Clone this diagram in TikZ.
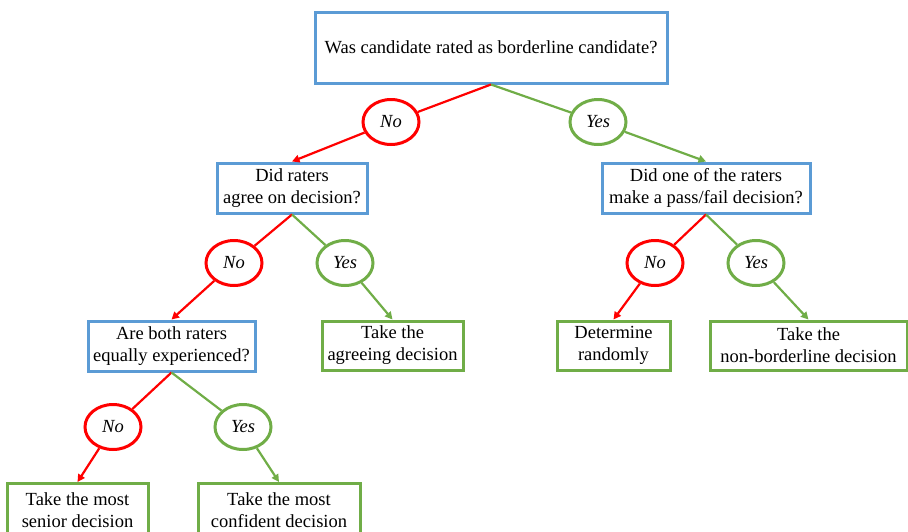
\documentclass[tikz,border=0pt]{standalone}
\usepackage{fontspec}
\setmainfont{Liberation Serif}
\usetikzlibrary{shapes.geometric,arrows.meta}
\definecolor{qblue}{RGB}{91,155,213}
\definecolor{ygreen}{RGB}{112,173,71}
\definecolor{nred}{RGB}{255,0,0}
\begin{document}
\begin{tikzpicture}[x=1pt,y=-1pt,
  qbox/.style={draw=qblue,line width=3pt,rectangle,inner sep=0pt,align=center,fill=white,font=\fontsize{18.5}{22}\selectfont},
  abox/.style={draw=ygreen,line width=3pt,rectangle,inner sep=0pt,align=center,fill=white,font=\fontsize{18.5}{22}\selectfont},
  nocirc/.style={draw=nred,line width=3pt,ellipse,minimum width=56pt,minimum height=45pt,inner sep=0pt,fill=white,font=\fontsize{18.5}{22}\selectfont\itshape},
  yescirc/.style={draw=ygreen,line width=3pt,ellipse,minimum width=56pt,minimum height=45pt,inner sep=0pt,fill=white,font=\fontsize{18.5}{22}\selectfont\itshape},
  nline/.style={draw=nred,line width=2.2pt},
  yline/.style={draw=ygreen,line width=2.2pt},
  tip/.style={-{Triangle[length=7.5pt,width=7.5pt]}}
]
\useasboundingbox (0,0) rectangle (908,531);
\clip (0,0) rectangle (908,531);
% question boxes
\node[qbox,minimum width=352pt,minimum height=71pt] (q1) at (491,47.5) {Was candidate rated as borderline candidate?};
\node[qbox,minimum width=150pt,minimum height=50pt] (q2) at (292,188) {Did raters\\agree on decision?};
\node[qbox,minimum width=208pt,minimum height=50pt] (q3) at (706,188) {Did one of the raters\\make a pass/fail decision?};
\node[qbox,minimum width=167pt,minimum height=50pt] (q4) at (171.5,346) {Are both raters\\equally experienced?};
% answer boxes
\node[abox,minimum width=141pt,minimum height=49pt] (a1) at (392.5,345.5) {Take the\\agreeing decision};
\node[abox,minimum width=113pt,minimum height=49pt] (a2) at (613.5,345.5) {Determine\\randomly};
\node[abox,minimum width=197pt,minimum height=49pt] (a3) at (808.5,345.5) {Take the\\non-borderline decision};
\node[abox,minimum width=141pt,minimum height=54pt,anchor=north] (a4) at (77.5,482) {Take the most\\senior decision};
\node[abox,minimum width=162pt,minimum height=54pt,anchor=north] (a5) at (279,482) {Take the most\\confident decision};
% circles
\node[nocirc] (c1n) at (391,122) {No};
\node[yescirc] (c1y) at (598,122) {Yes};
\node[nocirc] (c2n) at (234,263) {No};
\node[yescirc] (c2y) at (345,263) {Yes};
\node[nocirc] (c3n) at (655,263) {No};
\node[yescirc] (c3y) at (756,263) {Yes};
\node[nocirc] (c4n) at (113,427) {No};
\node[yescirc] (c4y) at (243,427) {Yes};
% connectors
\draw[nline] (q1.south) -- (c1n);
\draw[nline,tip] (c1n) -- (q2.north);
\draw[yline] (q1.south) -- (c1y);
\draw[yline,tip] (c1y) -- (q3.north);
\draw[nline] (q2.south) -- (c2n);
\draw[nline,tip] (c2n) -- (q4.north);
\draw[yline] (q2.south) -- (c2y);
\draw[yline,tip] (c2y) -- (a1.north);
\draw[nline] (q3.south) -- (c3n);
\draw[nline,tip] (c3n) -- (a2.north);
\draw[yline] (q3.south) -- (c3y);
\draw[yline,tip] (c3y) -- (a3.north);
\draw[nline] (q4.south) -- (c4n);
\draw[nline,tip] (c4n) -- (a4.north);
\draw[yline] (q4.south) -- (c4y);
\draw[yline,tip] (c4y) -- (a5.north);
\end{tikzpicture}
\end{document}
